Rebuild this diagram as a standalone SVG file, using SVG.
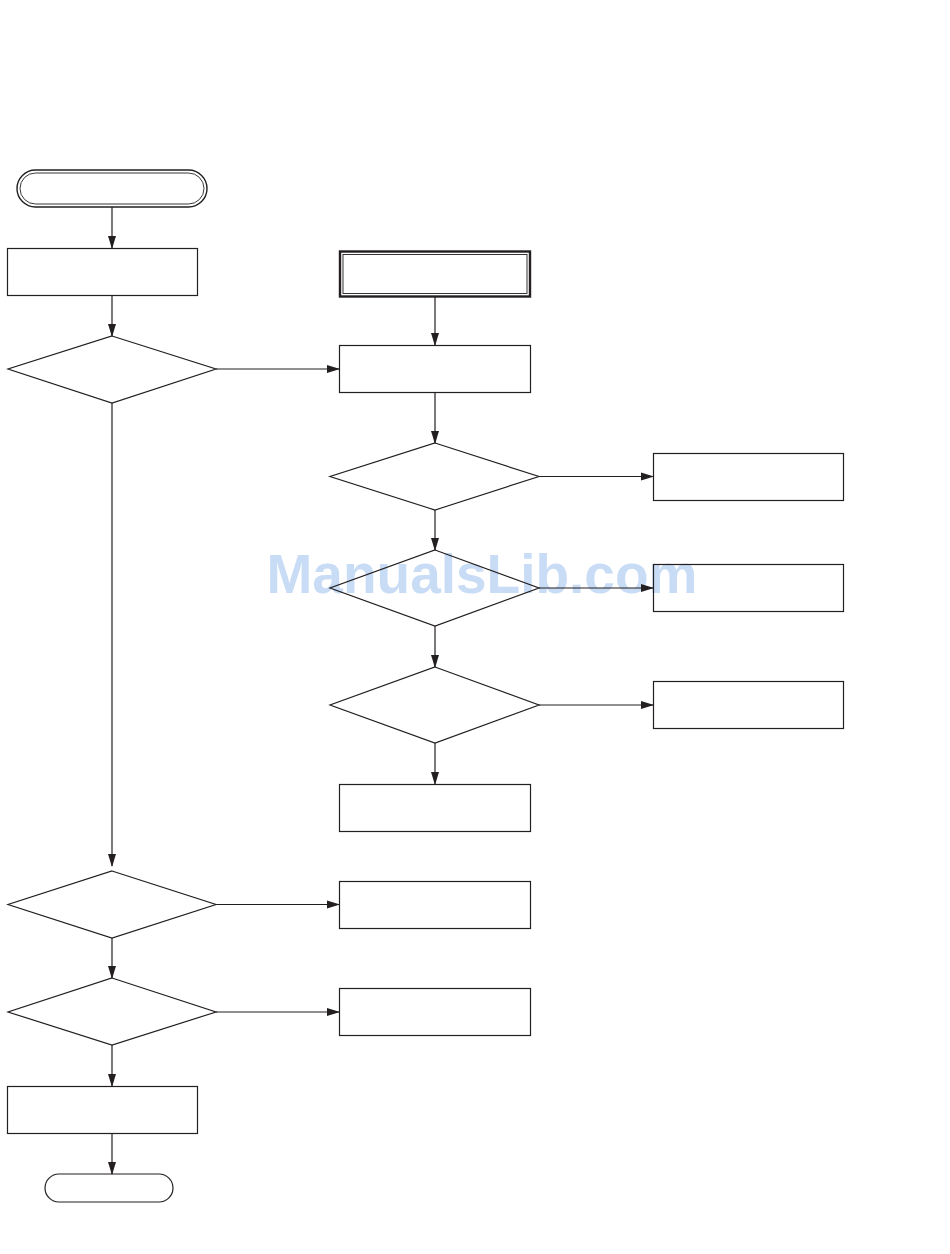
<svg xmlns="http://www.w3.org/2000/svg" width="950" height="1254" viewBox="0 0 950 1254">
<style>
.n{fill:none;stroke:#231f20;stroke-width:1.2}
.c{fill:none;stroke:#231f20;stroke-width:1.2}
.wm{font-family:"Liberation Sans",Arial,sans-serif;font-weight:bold;font-size:55px;fill:#c9dcf6}
</style>
<defs>
<marker id="ah" markerWidth="13" markerHeight="9" refX="12" refY="4.5" orient="auto" markerUnits="userSpaceOnUse">
<path d="M0,0.5 L13,4.5 L0,8.5 Z" fill="#231f20"/>
</marker>
</defs>
<rect width="950" height="1254" fill="#fff"/>
<text class="wm" x="482" y="593" text-anchor="middle">ManualsLib.com</text>
<g id="start"><rect class="n" x="17" y="170" width="190" height="37" rx="18.5" style="stroke-width:1.4"/><rect class="n" x="20" y="173" width="184" height="31" rx="15.5" style="stroke-width:0.9"/></g>
<g id="box1"><rect class="n" x="7.5" y="248.5" width="190" height="47"/></g>
<g id="dia1"><polygon class="n" points="112,336 216,369 112,403 8,369"/></g>
<g id="dbox"><rect class="n" x="340" y="251.5" width="190" height="45" style="stroke-width:2.4"/><rect class="n" x="343" y="254.5" width="184" height="39" style="stroke-width:0.9"/></g>
<g id="box2"><rect class="n" x="339.5" y="345.5" width="191" height="47"/></g>
<g id="dia2"><polygon class="n" points="435,443 539,476.5 435,510 330,476.5"/></g>
<g id="boxr1"><rect class="n" x="653.5" y="453.5" width="190" height="47"/></g>
<g id="dia3"><polygon class="n" points="435,550 539,588 435,626 330,588"/></g>
<g id="boxr2"><rect class="n" x="653.5" y="564.5" width="190" height="47"/></g>
<g id="dia4"><polygon class="n" points="435,667 539,705 435,743 330,705"/></g>
<g id="boxr3"><rect class="n" x="653.5" y="681.5" width="190" height="47"/></g>
<g id="box4"><rect class="n" x="339.5" y="784.5" width="191" height="47"/></g>
<g id="dia5"><polygon class="n" points="112,871 216,904.5 112,938 8,904.5"/></g>
<g id="box5"><rect class="n" x="339.5" y="881.5" width="191" height="47"/></g>
<g id="dia6"><polygon class="n" points="112,978 216,1012 112,1045 8,1012"/></g>
<g id="box6"><rect class="n" x="339.5" y="988.5" width="191" height="47"/></g>
<g id="box7"><rect class="n" x="7.5" y="1086.5" width="190" height="47"/></g>
<g id="end"><rect class="n" x="45" y="1174" width="128" height="28" rx="14"/></g>
<g id="connectors">
<line class="c" x1="112" y1="207" x2="112" y2="248" marker-end="url(#ah)"/>
<line class="c" x1="112" y1="295" x2="112" y2="336" marker-end="url(#ah)"/>
<line class="c" x1="216" y1="369" x2="339" y2="369" marker-end="url(#ah)"/>
<line class="c" x1="112" y1="403" x2="112" y2="866" marker-end="url(#ah)"/>
<line class="c" x1="435" y1="297" x2="435" y2="345" marker-end="url(#ah)"/>
<line class="c" x1="435" y1="392" x2="435" y2="443" marker-end="url(#ah)"/>
<line class="c" x1="539" y1="476.5" x2="653" y2="476.5" marker-end="url(#ah)"/>
<line class="c" x1="435" y1="510" x2="435" y2="550" marker-end="url(#ah)"/>
<line class="c" x1="539" y1="588" x2="653" y2="588" marker-end="url(#ah)"/>
<line class="c" x1="435" y1="626" x2="435" y2="667" marker-end="url(#ah)"/>
<line class="c" x1="539" y1="705" x2="653" y2="705" marker-end="url(#ah)"/>
<line class="c" x1="435" y1="743" x2="435" y2="784" marker-end="url(#ah)"/>
<line class="c" x1="216" y1="904.5" x2="339" y2="904.5" marker-end="url(#ah)"/>
<line class="c" x1="112" y1="938" x2="112" y2="978" marker-end="url(#ah)"/>
<line class="c" x1="216" y1="1012" x2="339" y2="1012" marker-end="url(#ah)"/>
<line class="c" x1="112" y1="1045" x2="112" y2="1086" marker-end="url(#ah)"/>
<line class="c" x1="112" y1="1133" x2="112" y2="1174" marker-end="url(#ah)"/>
</g>
</svg>
